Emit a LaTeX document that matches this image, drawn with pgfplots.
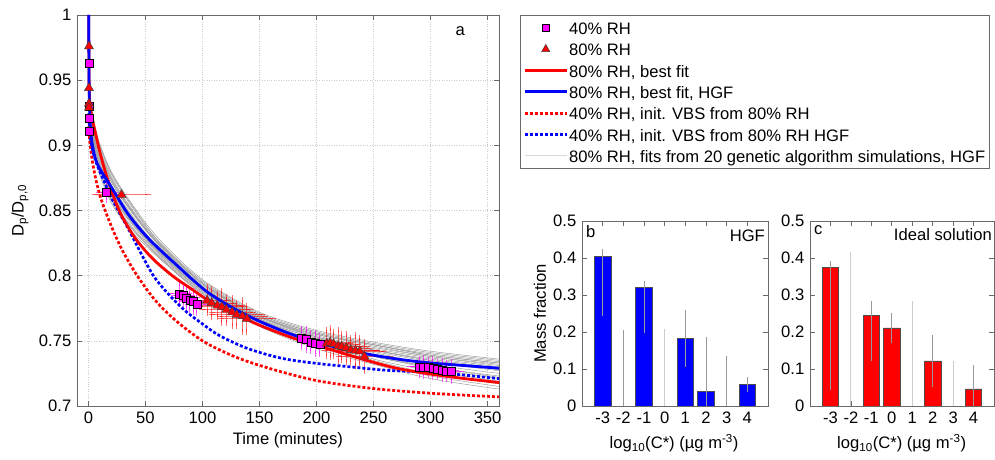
\documentclass[border=0pt]{standalone}
\usepackage{fontspec}
\setmainfont{Liberation Sans}
\usepackage{pgfplots}
\usepackage{pgfplotstable}
\pgfplotsset{compat=1.18}
\definecolor{mag}{RGB}{255,0,255}
\definecolor{axgray}{RGB}{105,105,105}
\definecolor{gline}{RGB}{158,158,158}

\pgfplotstableread{
t g1 g2 g3 g4 g5 g6 g7 g8 g9 g10 g11 g12 g13 g14 g15 g16 g17 g18 g19 g20
1 0.939 0.938 0.937 0.937 0.936 0.936 0.935 0.934 0.934 0.933 0.933 0.932 0.931 0.938 0.937 0.934 0.932 0.937 0.934 0.935
3 0.928 0.926 0.924 0.923 0.921 0.920 0.918 0.916 0.915 0.913 0.912 0.910 0.908 0.927 0.922 0.916 0.911 0.924 0.914 0.919
6 0.914 0.912 0.910 0.908 0.906 0.904 0.902 0.900 0.898 0.896 0.894 0.892 0.890 0.913 0.907 0.899 0.893 0.909 0.897 0.903
10 0.901 0.899 0.897 0.895 0.893 0.891 0.889 0.887 0.885 0.883 0.881 0.879 0.877 0.900 0.894 0.886 0.880 0.896 0.884 0.890
20 0.880 0.878 0.876 0.874 0.872 0.870 0.868 0.866 0.864 0.862 0.860 0.858 0.856 0.879 0.873 0.865 0.859 0.875 0.863 0.869
35 0.859 0.857 0.855 0.853 0.852 0.850 0.848 0.846 0.844 0.843 0.841 0.839 0.837 0.858 0.853 0.845 0.840 0.854 0.844 0.849
60 0.830 0.828 0.827 0.826 0.825 0.823 0.822 0.821 0.820 0.818 0.817 0.816 0.815 0.828 0.825 0.820 0.816 0.826 0.819 0.822
100 0.797 0.796 0.795 0.794 0.793 0.792 0.791 0.791 0.790 0.789 0.788 0.787 0.786 0.794 0.791 0.788 0.786 0.794 0.790 0.791
150 0.772 0.771 0.770 0.770 0.769 0.769 0.768 0.767 0.766 0.766 0.765 0.764 0.763 0.767 0.765 0.763 0.761 0.769 0.768 0.766
200 0.758 0.757 0.756 0.756 0.754 0.755 0.753 0.753 0.752 0.752 0.750 0.749 0.748 0.749 0.748 0.746 0.744 0.753 0.755 0.750
250 0.749 0.748 0.747 0.747 0.745 0.746 0.743 0.744 0.742 0.743 0.741 0.739 0.738 0.736 0.735 0.733 0.732 0.743 0.747 0.738
300 0.742 0.741 0.739 0.740 0.738 0.738 0.736 0.737 0.734 0.735 0.732 0.730 0.729 0.727 0.725 0.723 0.721 0.735 0.739 0.730
360 0.736 0.735 0.733 0.734 0.731 0.732 0.729 0.730 0.727 0.728 0.725 0.723 0.721 0.719 0.717 0.715 0.713 0.728 0.733 0.722
}\graytab

\pgfplotstableread{
t y ex ey
0.5 0.963 0 0
0.5 0.930 0 0
0.5 0.921 0 0
0.5 0.911 0 0
16 0.864 7 0.006
80 0.786 8 0.008
83 0.785 8 0.007
86 0.783 9 0.008
89 0.781 8 0.007
92 0.780 9 0.008
95 0.778 8 0.007
187 0.752 8 0.007
191 0.751 9 0.008
195 0.749 8 0.007
199 0.748 9 0.008
203 0.747 8 0.007
290 0.730 8 0.006
294 0.730 9 0.007
298 0.7295 8 0.006
302 0.729 9 0.007
306 0.728 8 0.006
310 0.7275 9 0.007
314 0.727 8 0.006
318 0.7265 9 0.007
}\magtab

\pgfplotstableread{
t y ex ey
0.5 0.976 0 0
0.5 0.944 0 0
0.5 0.932 0 0
0.5 0.929 0 0
29 0.862 23 0.001
104 0.781 18 0.010
108 0.779 20 0.011
113 0.777 22 0.009
117 0.776 19 0.012
121 0.774 21 0.010
126 0.772 18 0.011
130 0.770 22 0.009
135 0.769 20 0.012
139 0.767 23 0.010
209 0.748 20 0.010
212 0.7485 18 0.011
215 0.7475 21 0.009
219 0.746 19 0.012
222 0.7455 22 0.010
226 0.7445 20 0.011
230 0.743 23 0.009
234 0.7425 19 0.012
238 0.742 21 0.010
242 0.738 22 0.011
}\redtab

\pgfplotsset{
  myframe/.style={
    scale only axis,
    axis line style={draw=axgray, line width=0.7pt},
    tick style={draw=axgray, line width=0.6pt},
    major tick length=5pt,
    tick align=inside,
    /pgf/number format/assume math mode=true,
  },
}

\begin{document}
\fontsize{16.6}{19.5}\selectfont
\begin{tikzpicture}[font=\fontsize{16.6}{19.5}\selectfont]
\useasboundingbox (0,0) rectangle (995pt,460pt);

% ---------------- panel a ----------------
\begin{axis}[myframe,
  at={(77pt,54pt)}, anchor=south west,
  width=422pt, height=391pt,
  xmin=-10, xmax=360, ymin=0.7, ymax=1,
  xtick={0,50,100,150,200,250,300,350},
  ytick={0.7,0.75,0.8,0.85,0.9,0.95,1},
  grid=major,
  major grid style={draw=gray!40, dotted, line width=0.6pt},
  xlabel={Time (minutes)},
  ylabel={D\textsubscript{p}/D\textsubscript{p,0}},
  xlabel style={at={(axis description cs:0.5,-0.087)}, anchor=center},
  ylabel style={at={(axis description cs:-0.135,0.5)}, anchor=center, rotate=0},
  legend style={at={(1.0498,1)}, anchor=north west, draw=axgray, line width=0.7pt,
    fill=white, inner xsep=3pt, inner ysep=5pt, row sep=6pt,
    nodes={inner sep=1pt, text height=13.3pt, text depth=0pt}},
  legend cell align=left,
  legend image code/.code={\draw[mark repeat=2,mark phase=2,#1] plot coordinates {(5pt,0pt) (26pt,0pt) (47pt,0pt)};},
]
\pgfplotsinvokeforeach{1,...,20}{
  \addplot[forget plot, draw=gline, line width=0.5pt, smooth, tension=0.5] table[x=t,y=g#1]{\graytab};
}

\addplot[forget plot, only marks, mark=square*, mark size=4pt,
  mark options={fill=mag, draw=black, line width=0.5pt},
  error bars/.cd, x dir=both, x explicit, y dir=both, y explicit,
  error bar style={draw=mag, opacity=0.6, line width=0.9pt},
  error mark options={draw=mag, opacity=0.6, mark size=3pt, line width=0.9pt}]
  table[x=t, y=y, x error=ex, y error=ey]{\magtab};

\addplot[forget plot, only marks, mark=triangle*, mark size=5.2pt,
  mark options={fill=red, draw=black!75, line width=0.5pt},
  error bars/.cd, x dir=both, x explicit, y dir=both, y explicit,
  error bar style={draw=red, opacity=0.55, line width=0.9pt},
  error mark options={draw=red, opacity=0.55, mark size=3pt, line width=0.9pt}]
  table[x=t, y=y, x error=ex, y error=ey]{\redtab};

% red dotted: 40% RH, init VBS from 80% RH
\addplot[forget plot, red, line width=2.7pt, dash pattern=on 3pt off 2pt, smooth, tension=0.5] coordinates {
(0.5,0.915) (1,0.905) (2,0.897) (4,0.885) (7,0.872) (11,0.859) (16,0.847) (22,0.834) (30,0.819) (42,0.801) (55,0.785) (65,0.775) (80,0.763) (100,0.750) (120,0.741) (140,0.734) (170,0.726) (200,0.7195) (230,0.7155) (260,0.7125) (300,0.7098) (330,0.7083) (360,0.707)};

% blue dotted: 40% RH, init VBS from 80% RH HGF
\addplot[forget plot, blue, line width=2.7pt, dash pattern=on 3pt off 2pt, smooth, tension=0.5] coordinates {
(0.5,0.925) (1,0.912) (2,0.904) (4,0.895) (8,0.884) (14,0.872) (20,0.86) (28,0.847) (35,0.836) (45,0.819) (57,0.800) (70,0.786) (85,0.773) (100,0.763) (115,0.754) (140,0.744) (170,0.7365) (200,0.7327) (230,0.730) (260,0.7275) (290,0.7262) (320,0.7245) (360,0.721)};

% red solid: 80% RH best fit
\addplot[forget plot, red, line width=2.8pt, smooth, tension=0.5] coordinates {
(0.3,1.0) (0.5,0.96) (0.8,0.94) (1.5,0.93) (3,0.922) (6,0.91) (10,0.895) (15,0.879) (20,0.866) (25,0.854) (31,0.843) (40,0.830) (50,0.819) (60,0.810) (75,0.799) (90,0.790) (105,0.781) (120,0.774) (150,0.762) (180,0.752) (210,0.744) (240,0.736) (270,0.729) (300,0.7245) (330,0.721) (360,0.718)};

% blue solid: 80% RH best fit HGF
\addplot[forget plot, blue, line width=2.8pt, smooth, tension=0.5] coordinates {
(0.3,1.0) (0.5,0.96) (0.8,0.935) (1.5,0.918) (3,0.903) (6,0.89) (10,0.882) (20,0.868) (35,0.847) (50,0.831) (65,0.818) (80,0.806) (90,0.798) (105,0.787) (125,0.776) (150,0.765) (175,0.756) (200,0.749) (225,0.7435) (250,0.739) (275,0.7355) (300,0.733) (330,0.731) (360,0.729)};

\node at (axis description cs:0.908,0.959) {a};

\addlegendimage{only marks, mark=square*, mark size=3.6pt, mark options={fill=mag, draw=black, line width=0.5pt}}
\addlegendentry{40\% RH}
\addlegendimage{only marks, mark=triangle*, mark size=4.8pt, mark options={fill=red, draw=black!75, line width=0.5pt}}
\addlegendentry{80\% RH}
\addlegendimage{red, line width=2.8pt}
\addlegendentry{80\% RH, best fit}
\addlegendimage{blue, line width=2.8pt}
\addlegendentry{80\% RH, best fit, HGF}
\addlegendimage{red, line width=2.7pt, dash pattern=on 3pt off 2pt}
\addlegendentry{40\% RH, init. VBS from 80\% RH}
\addlegendimage{blue, line width=2.7pt, dash pattern=on 3pt off 2pt}
\addlegendentry{40\% RH, init. VBS from 80\% RH HGF}
\addlegendimage{gray!30, line width=1pt}
\addlegendentry{80\% RH, fits from 20 genetic algorithm simulations, HGF}
\end{axis}

% ---------------- panel b ----------------
\begin{axis}[myframe,
  at={(582pt,54pt)}, anchor=south west,
  width=186pt, height=185pt,
  xmin=-4, xmax=5, ymin=0, ymax=0.5,
  xtick={-3,-2,-1,0,1,2,3,4},
  xticklabels={-3,-2,-1,0,1,2,3,4},
  ytick={0,0.1,0.2,0.3,0.4,0.5},
  xlabel={log\textsubscript{10}(C*) (µg m\textsuperscript{-3})},
  ylabel={Mass fraction},
  xlabel style={at={(axis description cs:0.495,-0.2)}, anchor=center},
  ylabel style={at={(axis description cs:-0.226,0.5)}, anchor=center},
]
\addplot[ybar, bar width=0.8, fill=blue, draw=black!70, line width=0.7pt] coordinates {(-3,0.405) (-1,0.32) (1,0.182) (2,0.04) (4,0.058)};
\addplot[draw=none, mark=none,
  error bars/.cd, y dir=both, y explicit,
  error bar style={draw=gray!80, line width=0.8pt},
  error mark options={draw=gray!80, mark size=2pt, line width=0.8pt}]
  table[x=x, y=y, y error plus=ep, y error minus=em]{
x y ep em
-3 0.405 0.013 0.155
-2 0 0.2 0
-1 0.32 0.012 0.118
1 0.182 0.072 0.072
2 0.04 0.14 0.04
3 0 0.13 0
4 0.058 0.014 0.014
};
\addplot[draw=none, mark=none,
  error bars/.cd, y dir=both, y explicit,
  error bar style={draw=gray!40, line width=0.8pt},
  error mark options={draw=gray!40, mark size=2pt, line width=0.8pt}]
  table[x=x, y=y, y error plus=ep, y error minus=em]{
x y ep em
0 0 0.204 0
};
\node[anchor=north west, inner sep=4pt] at (axis description cs:0,1) {b};
\node[anchor=north east, inner sep=3pt] at (axis description cs:1,0.97) {HGF};
\end{axis}

% ---------------- panel c ----------------
\begin{axis}[myframe,
  at={(810pt,54pt)}, anchor=south west,
  width=184pt, height=185pt,
  xmin=-4, xmax=5, ymin=0, ymax=0.5,
  xtick={-3,-2,-1,0,1,2,3,4},
  xticklabels={-3,-2,-1,0,1,2,3,4},
  ytick={0,0.1,0.2,0.3,0.4,0.5},
  xlabel={log\textsubscript{10}(C*) (µg m\textsuperscript{-3})},
  xlabel style={at={(axis description cs:0.498,-0.2)}, anchor=center},
]
\addplot[ybar, bar width=0.8, fill=red, draw=black!70, line width=0.7pt] coordinates {(-3,0.375) (-1,0.244) (0,0.211) (2,0.122) (4,0.046)};
\addplot[draw=none, mark=none,
  error bars/.cd, y dir=both, y explicit,
  error bar style={draw=gray!80, line width=0.8pt},
  error mark options={draw=gray!80, mark size=2pt, line width=0.8pt}]
  table[x=x, y=y, y error plus=ep, y error minus=em]{
x y ep em
-3 0.375 0.012 0.325
-1 0.244 0.035 0.117
0 0.211 0.036 0.036
2 0.122 0.064 0.064
4 0.046 0.059 0.046
};
\addplot[draw=none, mark=none,
  error bars/.cd, y dir=both, y explicit,
  error bar style={draw=gray!40, line width=0.8pt},
  error mark options={draw=gray!40, mark size=2pt, line width=0.8pt}]
  table[x=x, y=y, y error plus=ep, y error minus=em]{
x y ep em
-2 0 0.41 0
1 0 0.278 0
3 0 0.116 0
};
\node[anchor=north west, inner sep=4pt] at (axis description cs:0,1) {c};
\node[anchor=north east, inner sep=2pt] at (axis description cs:1,0.97) {Ideal solution};
\end{axis}
\end{tikzpicture}
\end{document}
